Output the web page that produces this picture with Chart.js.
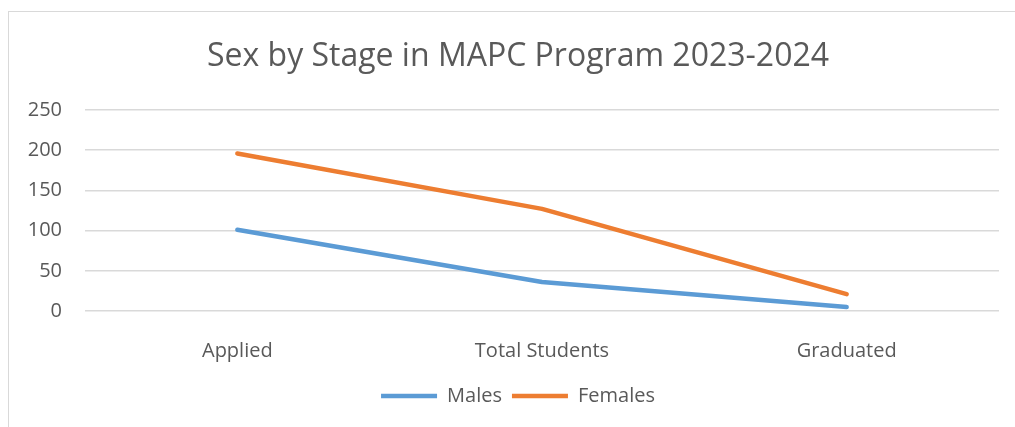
<!DOCTYPE html>
<html>
<head>
<meta charset="utf-8">
<script src="https://cdn.jsdelivr.net/npm/chart.js@4"></script>
<style>
    html, body { margin: 0; padding: 0; background: #fff; overflow: hidden; }
    #frame {
        position: absolute;
        left: 8px;
        top: 11px;
        width: 1020px;
        height: 420px;
        border: 1px solid #d9d9d9;
    }
    #box { position: relative; width: 1020px; height: 415px; }
</style>
</head>
<body>
<div id="frame"><div id="box"><canvas id="stage-chart"></canvas></div></div>
<script>
const stages = ["Applied", "Total Students", "Graduated"];
const males = [101, 36, 5];
const females = [196, 127, 21];
const chartTitle = "Sex by Stage in MAPC Program 2023-2024";

const textColor = "#595959";
const fontFamily = "'Open Sans', 'DejaVu Sans', sans-serif";

(function () {
    const canvas = document.getElementById("stage-chart");

    function lineSet(label, data, color) {
        return {
            label: label,
            data: data,
            borderColor: color,
            backgroundColor: color,
            borderWidth: 4.5,
            borderCapStyle: 'round',
            borderJoinStyle: 'round',
            pointRadius: 0,
            pointHoverRadius: 0,
            tension: 0,
            fill: false
        };
    }

    // title and legend sit centred on the whole (wider, cropped) frame, not the padded area
    const shiftBlocks = {
        id: 'shiftBlocks',
        afterLayout(chart) {
            const dx = 14;
            [chart.titleBlock, chart.legend].forEach(b => {
                if (b) { b.left += dx; b.right += dx; }
            });
        }
    };

    new Chart(canvas, {
        type: 'line',
        data: {
            labels: stages,
            datasets: [
                lineSet('Males', males, '#5B9BD5'),
                lineSet('Females', females, '#ED7D31')
            ]
        },
        plugins: [shiftBlocks],
        options: {
            responsive: true,
            maintainAspectRatio: false,
            animation: false,
            layout: {
                padding: { left: 0, right: 30, top: 0, bottom: 11 }
            },
            plugins: {
                title: {
                    display: true,
                    text: chartTitle,
                    color: textColor,
                    font: { family: fontFamily, size: 32, weight: 'normal' },
                    padding: { top: 26, bottom: 33.6 }
                },
                legend: {
                    position: 'bottom',
                    labels: {
                        usePointStyle: true,
                        pointStyle: 'line',
                        pointStyleWidth: 56,
                        boxHeight: 20,
                        padding: 10,
                        color: textColor,
                        font: { family: fontFamily, size: 20 }
                    }
                },
                tooltip: { enabled: false }
            },
            scales: {
                x: {
                    offset: true,
                    grid: { display: false },
                    border: { display: false },
                    ticks: {
                        color: textColor,
                        padding: 20,
                        font: { family: fontFamily, size: 20 }
                    },
                    afterFit: function (scale) { scale.height = 65; }
                },
                y: {
                    min: 0,
                    max: 250,
                    grid: { color: '#d9d9d9', lineWidth: 1.5, drawTicks: false },
                    border: { display: false },
                    ticks: {
                        stepSize: 50,
                        color: textColor,
                        padding: 23,
                        font: { family: fontFamily, size: 20 }
                    },
                    afterFit: function (scale) { scale.width = 76; }
                }
            }
        }
    });
})();
</script>
</body>
</html>
